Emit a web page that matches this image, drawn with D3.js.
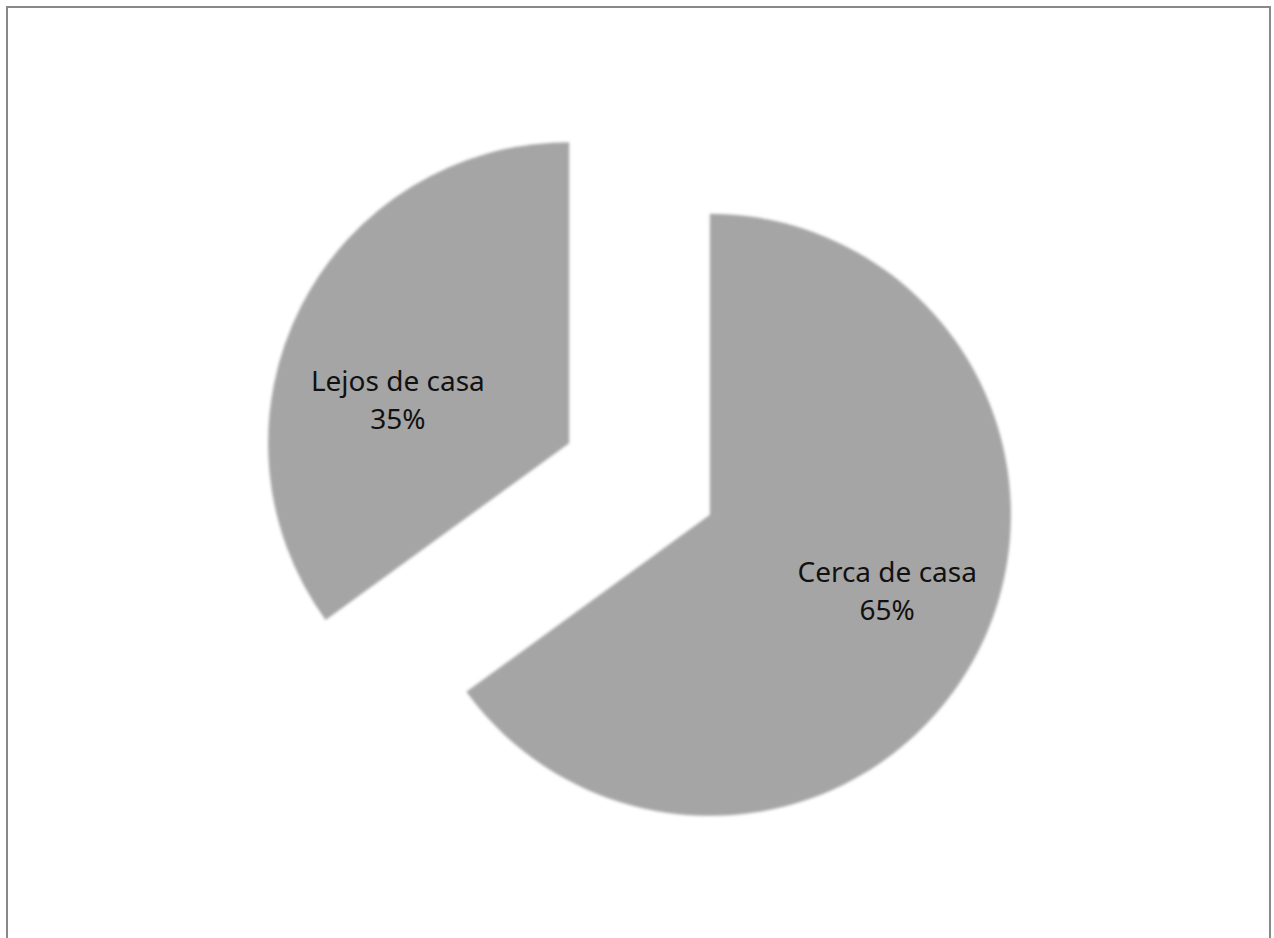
<!DOCTYPE html>
<html>
<head>
<meta charset="utf-8">
<script src="https://cdn.jsdelivr.net/npm/d3@7"></script>
<style>
  html, body { margin: 0; padding: 0; background: #ffffff; }
  svg { display: block; }
</style>
</head>
<body>
<script>
// Share of responses: close to home vs. far from home
const categories = ["Cerca de casa", "Lejos de casa"];
const values = [65, 35];
const percentLabels = ["65%", "35%"];

const W = 1274, H = 938;
const svg = d3.select("body").append("svg")
  .attr("width", W).attr("height", H);

// soft edge on the slices
const defs = svg.append("defs");
defs.append("filter").attr("id", "soft")
  .attr("x", "-10%").attr("y", "-10%").attr("width", "120%").attr("height", "120%")
  .append("feGaussianBlur").attr("stdDeviation", 1.8);

// chart frame
svg.append("rect")
  .attr("x", 7).attr("y", 7)
  .attr("width", 1263).attr("height", 960)
  .attr("fill", "none")
  .attr("stroke", "#898989")
  .attr("stroke-width", 2);

const cx = 639.5, cy = 479, radius = 301, explode = 79;

const pie = d3.pie().sort(null).value(d => d);
const arcs = pie(values);
const arc = d3.arc().innerRadius(0).outerRadius(radius);

const g = svg.append("g").attr("transform", `translate(${cx},${cy})`);

const slices = g.selectAll("g.slice")
  .data(arcs)
  .join("g")
  .attr("class", "slice")
  .attr("transform", d => {
    const mid = (d.startAngle + d.endAngle) / 2;
    return `translate(${explode * Math.sin(mid)},${-explode * Math.cos(mid)})`;
  });

slices.append("path")
  .attr("d", arc)
  .attr("fill", "#a5a5a5")
  .attr("filter", "url(#soft)");

// data labels inside each slice
const labelArc = d3.arc().innerRadius(radius * 0.62).outerRadius(radius * 0.62);
const nudge = [[11, -12], [-5, 38]];

const labels = slices.append("text")
  .attr("transform", (d, i) => {
    const [x, y] = labelArc.centroid(d);
    return `translate(${x + nudge[i][0]},${y + nudge[i][1]})`;
  })
  .attr("text-anchor", "middle")
  .attr("font-family", "'Noto Sans', 'Open Sans', sans-serif")
  .attr("font-size", 28)
  .attr("fill", "#111111");

labels.append("tspan")
  .attr("x", 0).attr("dy", "-0.2em")
  .text((d, i) => categories[i]);
labels.append("tspan")
  .attr("x", 0).attr("dy", "1.37em")
  .text((d, i) => percentLabels[i]);
</script>
</body>
</html>
